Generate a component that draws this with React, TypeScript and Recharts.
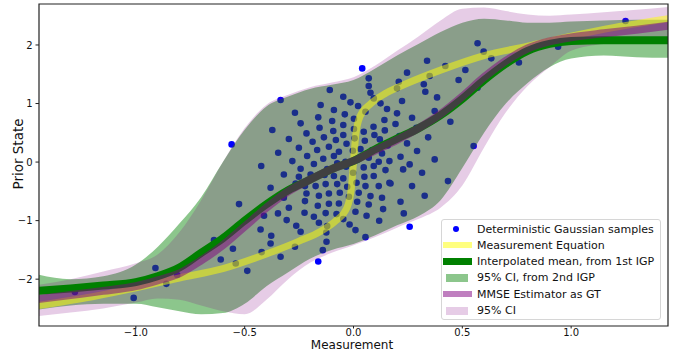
import React from 'react';
import { ComposedChart, XAxis, YAxis, Area, Line, Scatter, ReferenceArea, Label } from 'recharts';

// grid of measurement values for the curves / bands
const gridX = [-1.45, -1.3, -1.15, -1.0, -0.9, -0.8, -0.7, -0.6, -0.5, -0.4, -0.3, -0.2, -0.1, 0, 0.1, 0.2, 0.3, 0.4, 0.5, 0.6, 0.7, 0.8, 0.9, 1.0, 1.15, 1.3, 1.45];
const meanIGP = [-2.2, -2.16, -2.11, -2.05, -1.95, -1.8, -1.55, -1.3, -1.0, -0.72, -0.48, -0.3, -0.12, 0.02, 0.22, 0.4, 0.58, 0.8, 1.08, 1.4, 1.68, 1.9, 2.02, 2.07, 2.08, 2.08, 2.08];
const mmseGT = [-2.34, -2.27, -2.2, -2.12, -2.02, -1.9, -1.68, -1.42, -1.1, -0.78, -0.5, -0.3, -0.12, 0.02, 0.2, 0.38, 0.58, 0.82, 1.12, 1.45, 1.73, 1.94, 2.06, 2.13, 2.2, 2.26, 2.33];
const igpLow = [-2.52, -2.45, -2.42, -2.42, -2.48, -2.55, -2.6, -2.58, -2.42, -2.12, -1.88, -1.65, -1.5, -1.4, -1.25, -1.08, -0.92, -0.65, -0.1, 0.5, 1.0, 1.35, 1.62, 1.77, 1.82, 1.79, 1.78];
const igpHigh = [-1.92, -2.0, -1.95, -1.75, -1.45, -1.05, -0.6, 0.0, 0.55, 0.95, 1.12, 1.25, 1.32, 1.4, 1.6, 1.82, 2.02, 2.22, 2.38, 2.45, 2.42, 2.38, 2.38, 2.4, 2.42, 2.43, 2.43];
const ciLow = [-2.63, -2.57, -2.5, -2.4, -2.33, -2.35, -2.45, -2.55, -2.6, -2.35, -2.0, -1.72, -1.55, -1.42, -1.28, -1.12, -0.97, -0.78, -0.4, 0.25, 0.85, 1.3, 1.62, 1.9, 2.02, 2.08, 2.12];
const ciHigh = [-2.1, -2.0, -1.87, -1.73, -1.58, -1.2, -0.65, 0.0, 0.58, 0.98, 1.15, 1.28, 1.36, 1.45, 1.65, 1.9, 2.15, 2.42, 2.62, 2.64, 2.58, 2.52, 2.5, 2.52, 2.56, 2.6, 2.65];

// measurement equation (inverse), plotted as state vs measurement
const measX = [-1.45, -1.2, -1.0, -0.8, -0.6, -0.4, -0.25, -0.15, -0.08, -0.03, -0.01, 0, 0.01, 0.03, 0.08, 0.15, 0.25, 0.4, 0.6, 0.8, 1.0, 1.2, 1.45];
const measY = [-2.45, -2.3, -2.15, -1.98, -1.82, -1.57, -1.35, -1.18, -1.0, -0.78, -0.45, 0, 0.45, 0.78, 1.0, 1.18, 1.35, 1.57, 1.82, 1.98, 2.15, 2.3, 2.45];

// deterministic Gaussian samples [measurement, state]
const samplePoints: [number, number][] = [
  [0.04, 1.6], [0.338, 1.73], [0.598, 1.886], [0.633, 1.772], [0.07, 1.43], [0.422, 1.641], [0.246, 1.527], [0.208, 1.373],
  [0.35, 1.47], [0.514, 1.573], [0.483, 1.402], [0.07, 1.299], [0.078, 1.185], [0.2, 1.259], [0.323, 1.328], [0.33, 1.202],
  [-0.335, 1.06], [-0.109, 1.231], [-0.047, 1.117], [-0.014, 1.02], [0.021, 0.957], [0.093, 1.088], [0.124, 1.003], [0.223, 1.043],
  [0.384, 1.105], [-0.151, 0.974], [-0.09, 0.889], [-0.269, 0.843], [-0.04, 0.815], [0.002, 0.741], [0.055, 0.86], [0.154, 0.906],
  [0.2, 0.832], [0.373, 0.872], [0.445, 0.689], [0.269, 0.758], [-0.243, 0.661], [-0.162, 0.764], [-0.098, 0.701], [-0.047, 0.632],
  [0.092, 0.604], [0.142, 0.718], [0.193, 0.65], [0.289, 0.587], [-0.373, 0.547], [-0.216, 0.49], [-0.156, 0.587], [-0.093, 0.53],
  [-0.047, 0.462], [0.002, 0.564], [0.047, 0.519], [0.096, 0.462], [0.144, 0.541], [0.211, 0.444], [0.343, 0.422], [-0.56, 0.302],
  [-0.297, 0.393], [-0.188, 0.348], [-0.136, 0.422], [-0.081, 0.376], [-0.032, 0.313], [0.005, 0.405], [0.052, 0.365], [0.121, 0.387],
  [0.157, 0.285], [0.246, 0.319], [0.292, 0.188], [0.552, 0.274], [-0.346, 0.16], [-0.251, 0.245], [-0.167, 0.205], [-0.113, 0.262],
  [-0.067, 0.177], [-0.003, 0.194], [0.032, 0.222], [0.086, 0.205], [0.131, 0.148], [0.216, 0.091], [0.373, 0.046], [-0.281, 0.017],
  [-0.213, 0.103], [-0.139, 0.057], [-0.09, 0.103], [-0.037, 0.006], [0.017, 0.04], [0.07, 0.074], [0.116, 0.006], [0.165, 0.017],
  [0.258, -0.04], [-0.424, -0.068], [-0.243, -0.114], [-0.182, -0.034], [-0.121, -0.12], [-0.075, -0.023], [-0.034, -0.08], [0.047, -0.091],
  [0.093, -0.068], [0.147, -0.137], [0.228, -0.125], [0.315, -0.182], [-0.32, -0.211], [-0.251, -0.251], [-0.197, -0.211], [-0.133, -0.222],
  [-0.09, -0.239], [-0.047, -0.279], [-0.002, -0.182], [0.05, -0.251], [0.093, -0.239], [0.165, -0.353], [0.269, -0.41], [0.434, -0.325],
  [-0.381, -0.439], [-0.266, -0.365], [-0.223, -0.41], [-0.174, -0.41], [-0.128, -0.376], [-0.075, -0.376], [-0.029, -0.422], [0.014, -0.353],
  [0.055, -0.41], [0.116, -0.41], [0.17, -0.365], [0.327, -0.576], [-0.526, -0.718], [-0.32, -0.61], [-0.216, -0.536], [-0.159, -0.576],
  [-0.113, -0.536], [-0.063, -0.524], [-0.021, -0.593], [0.024, -0.524], [0.078, -0.581], [0.131, -0.61], [0.216, -0.678], [-0.411, -0.917],
  [-0.297, -0.781], [-0.223, -0.667], [-0.164, -0.746], [-0.113, -0.712], [-0.067, -0.707], [0.017, -0.678], [0.07, -0.724], [0.136, -0.803],
  [0.231, -0.877], [-0.347, -0.877], [-0.225, -0.866], [-0.182, -0.934], [-0.128, -0.872], [-0.078, -0.889], [-0.047, -0.974], [0.009, -0.849],
  [0.06, -0.917], [0.118, -1.003], [0.258, -1.105], [-0.307, -0.991], [-0.263, -1.088], [-0.159, -1.037], [-0.121, -1.094], [-0.018, -1.066],
  [0.009, -1.162], [-0.427, -1.151], [-0.378, -1.259], [-0.243, -1.191], [-0.125, -1.202], [0.055, -1.282], [-0.641, -1.333], [-0.381, -1.39],
  [-0.269, -1.447], [-0.124, -1.362], [-0.554, -1.481], [-0.422, -1.538], [-0.335, -1.618], [-0.141, -1.504], [-0.61, -1.664], [-0.541, -1.732],
  [-0.162, -1.698], [-0.488, -1.858], [-1.01, -2.32], [-0.91, -1.81], [-0.86, -2.08], [-0.81, -1.93], [-1.28, -2.22], [0.76, 1.7],
  [0.94, 1.97], [1.25, 2.41], [0.57, 2.03], [0.57, 1.27],
];

const xTicks = [-1, -0.5, 0, 0.5, 1];
const xTickText = ['\u22121.0', '\u22120.5', '0.0', '0.5', '1.0'];
const yTicks = [-2, -1, 0, 1, 2];
const yTickText = ['\u22122', '\u22121', '0', '1', '2'];

const legendItems = [
  { label: 'Deterministic Gaussian samples', kind: 'dot', color: '#0000ff' },
  { label: 'Measurement Equation', kind: 'line', color: 'rgba(255,255,0,0.5)', h: 6 },
  { label: 'Interpolated mean, from 1st IGP', kind: 'line', color: '#008000', h: 7 },
  { label: '95% CI, from 2nd IGP', kind: 'patch', color: 'rgba(0,128,0,0.45)' },
  { label: 'MMSE Estimator as GT', kind: 'line', color: 'rgba(128,0,128,0.5)', h: 6 },
  { label: '95% CI', kind: 'patch', color: 'rgba(128,0,128,0.2)' },
];

const table = gridX.map((x, i) => ({
  x,
  igpBand: [igpLow[i], igpHigh[i]],
  ciBand: [ciLow[i], ciHigh[i]],
  mean: meanIGP[i],
  mmse: mmseGT[i],
}));
const measData = measX.map((x, i) => ({ x, y: measY[i] }));
const sampleData = samplePoints.map(([x, y]) => ({ x, y }));

const FONT = 'DejaVu Sans, sans-serif';

const Dot = (p: any) => <circle cx={p.cx} cy={p.cy} r={3.3} fill="#0000ff" />;

export default function App() {
  return (
    <div style={{ position: 'absolute', left: 0, top: 0, width: 673, height: 352, background: '#fff', fontFamily: FONT }}>
      <ComposedChart width={673} height={352} data={table} margin={{ top: 4, right: 5, bottom: 0, left: 0 }}>
        <XAxis
          dataKey="x"
          type="number"
          domain={[-1.445, 1.445]}
          allowDataOverflow
          ticks={xTicks}
          tickFormatter={(v: number) => xTickText[xTicks.indexOf(v)]}
          height={26}
          axisLine={false}
          tickSize={2.5}
          tickMargin={0}
          tickLine={{ stroke: '#222' }}
          tick={{ fill: '#111', fontSize: 10, fontFamily: FONT }}
        >
          <Label
            content={() => (
              <text x={352} y={349.1} textAnchor="middle" fontSize={12} fontFamily={FONT} fill="#111">Measurement</text>
            )}
          />
        </XAxis>
        <YAxis
          type="number"
          domain={[-2.8, 2.7]}
          allowDataOverflow
          ticks={yTicks}
          tickFormatter={(v: number) => yTickText[yTicks.indexOf(v)]}
          width={39}
          axisLine={false}
          tickSize={3.5}
          tickMargin={3}
          tickLine={{ stroke: '#222' }}
          tick={{ fill: '#111', fontSize: 10, fontFamily: FONT }}
        >
          <Label
            content={() => (
              <text x={18} y={154} transform="rotate(-90, 18, 154)" textAnchor="middle" dominantBaseline="central" fontSize={13.5} fontFamily={FONT} fill="#111">Prior State</text>
            )}
          />
        </YAxis>
        <Scatter data={sampleData} dataKey="y" shape={Dot} isAnimationActive={false} zIndex={100} />
        <Area dataKey="igpBand" type="monotone" stroke="none" fill="#008000" fillOpacity={0.45} isAnimationActive={false} zIndex={101} />
        <Area dataKey="ciBand" type="monotone" stroke="none" fill="#800080" fillOpacity={0.2} isAnimationActive={false} zIndex={102} />
        <Line data={measData} dataKey="y" type="monotone" stroke="#ffff00" strokeOpacity={0.5} strokeWidth={7} dot={false} isAnimationActive={false} zIndex={103} />
        <Line dataKey="mean" type="monotone" stroke="#008000" strokeWidth={8} dot={false} isAnimationActive={false} zIndex={104} />
        <Line dataKey="mmse" type="monotone" stroke="#800080" strokeOpacity={0.5} strokeWidth={8} dot={false} isAnimationActive={false} zIndex={105} />
        <ReferenceArea x1={-1.445} x2={1.445} y1={-2.8} y2={2.7} fill="none" stroke="#222" strokeWidth={1.2} zIndex={200} />
      </ComposedChart>
      <div
        style={{
          position: 'absolute', left: 441, top: 219, width: 220, height: 101, boxSizing: 'border-box',
          border: '1px solid #d6d6d6', borderRadius: 3, background: 'rgba(255,255,255,0.8)',
        }}
      >
        {legendItems.map((it, i) => (
          <div key={i} style={{ position: 'absolute', left: 0, top: 1 + i * 16.3, height: 16, width: 218, display: 'flex', alignItems: 'center' }}>
            <div style={{ width: 34, height: 16, position: 'relative', flexShrink: 0 }}>
              {it.kind === 'dot' && (
                <div style={{ position: 'absolute', left: 11, top: 5, width: 6, height: 6, borderRadius: 3, background: it.color }} />
              )}
              {it.kind === 'line' && (
                <div style={{ position: 'absolute', left: 1, top: 8 - (it.h || 6) / 2, width: 29, height: it.h, background: it.color }} />
              )}
              {it.kind === 'patch' && (
                <div style={{ position: 'absolute', left: 4, top: 4, width: 22, height: 8, background: it.color }} />
              )}
            </div>
            <span style={{ fontSize: 11, color: '#111', whiteSpace: 'nowrap', marginLeft: 1 }}>{it.label}</span>
          </div>
        ))}
      </div>
    </div>
  );
}
